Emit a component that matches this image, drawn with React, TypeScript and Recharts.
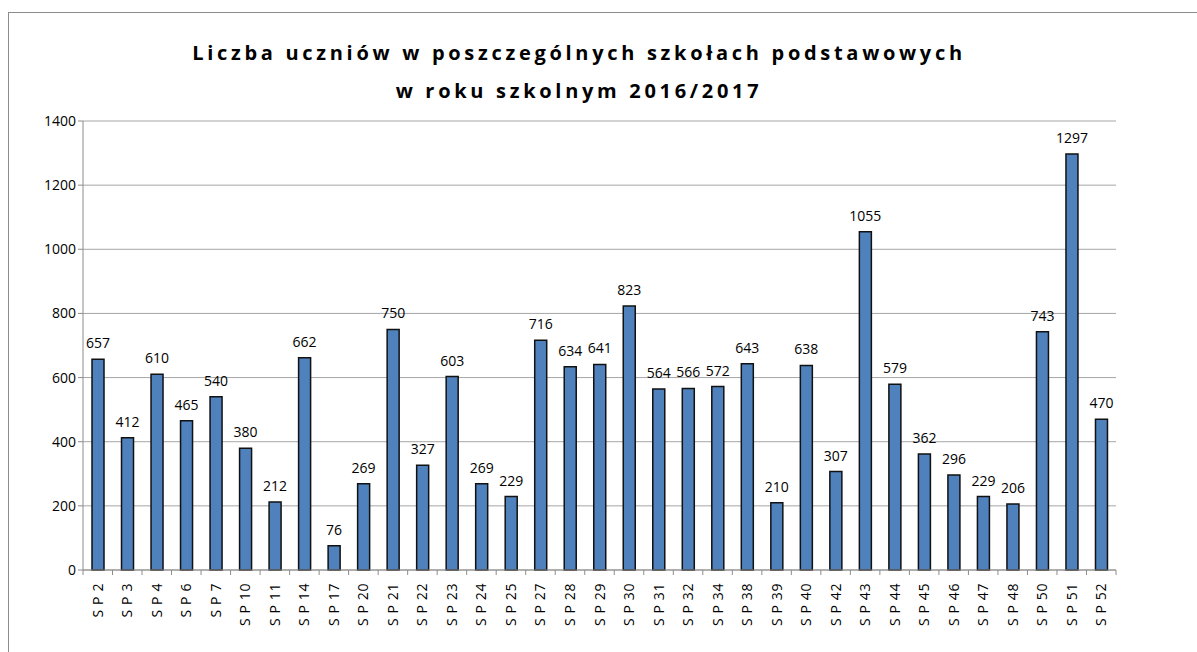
import React from "react";
import {
  BarChart,
  Bar,
  XAxis,
  YAxis,
  CartesianGrid,
  LabelList,
} from "recharts";

const schools = [
  "S P 2", "S P 3", "S P 4", "S P 6", "S P 7", "S P 10", "S P 11", "S P 14",
  "S P 17", "S P 20", "S P 21", "S P 22", "S P 23", "S P 24", "S P 25", "S P 27",
  "S P 28", "S P 29", "S P 30", "S P 31", "S P 32", "S P 34", "S P 38", "S P 39",
  "S P 40", "S P 42", "S P 43", "S P 44", "S P 45", "S P 46", "S P 47", "S P 48",
  "S P 50", "S P 51", "S P 52",
];

const students = [
  657, 412, 610, 465, 540, 380, 212, 662, 76, 269, 750, 327, 603, 269, 229, 716,
  634, 641, 823, 564, 566, 572, 643, 210, 638, 307, 1055, 579, 362, 296, 229, 206,
  743, 1297, 470,
];

const yTicks = [0, 200, 400, 600, 800, 1000, 1200, 1400];

const titleLines = [
  "Liczba uczniów w poszczególnych szkołach podstawowych",
  "w roku szkolnym 2016/2017",
];

const data = schools.map((name, i) => ({ name, value: students[i] }));

const FONT = "'Open Sans', sans-serif";
const CHART_W = 1188;
const CHART_H = 640;
const MARGIN = { top: 108, right: 81, left: 0, bottom: 0 };
const Y_W = 74;
const step = (CHART_W - MARGIN.left - MARGIN.right - Y_W) / schools.length;

// Excel style: tick marks between categories, labels rotated
function SchoolTick(props: any) {
  const { x, y, payload, index } = props;
  const last = index === schools.length - 1;
  return (
    <g>
      <line x1={x - step / 2} y1={y - 8} x2={x - step / 2} y2={y - 3} stroke="#8c8c8c" />
      {last && (
        <line x1={x + step / 2} y1={y - 8} x2={x + step / 2} y2={y - 3} stroke="#8c8c8c" />
      )}
      <text
        x={0}
        y={0}
        transform={`translate(${x + 5},${y + 5}) rotate(-90)`}
        textAnchor="end"
        fontSize={14}
        letterSpacing={0.6}
        fontFamily={FONT}
        fill="#000"
      >
        {payload.value}
      </text>
    </g>
  );
}

export default function App() {
  return (
    <div
      style={{
        position: "fixed",
        left: 8,
        top: 12,
        width: CHART_W,
        height: 660,
        border: "1px solid #8c8c8c",
        background: "#fff",
      }}
    >
      <div
        style={{
          position: "absolute",
          top: 21,
          left: 0,
          width: 1140,
          textAlign: "center",
          fontFamily: FONT,
          fontWeight: 700,
          fontSize: 20,
          letterSpacing: 3.7,
          lineHeight: "38px",
          color: "#000",
        }}
      >
        {titleLines.map((t) => (
          <div key={t}>{t}</div>
        ))}
      </div>
      <BarChart width={CHART_W} height={CHART_H} data={data} margin={MARGIN} barSize={12}>
        <CartesianGrid vertical={false} stroke="#a6a6a6" />
        <XAxis
          dataKey="name"
          interval={0}
          height={83}
          tickLine={false}
          axisLine={{ stroke: "#8c8c8c" }}
          tick={<SchoolTick />}
        />
        <YAxis
          width={Y_W}
          domain={[0, 1400]}
          ticks={yTicks}
          interval={0}
          axisLine={{ stroke: "#8c8c8c" }}
          tickLine={{ stroke: "#8c8c8c" }}
          tickSize={5}
          tick={{ fill: "#000", fontSize: 14, fontFamily: FONT }}
        />
        <Bar dataKey="value" fill="#4f81bd" stroke="#111" strokeWidth={1.5} isAnimationActive={false}>
          <LabelList
            dataKey="value"
            position="top"
            offset={11}
            style={{ fill: "#000", fontSize: 14, fontFamily: FONT }}
          />
        </Bar>
      </BarChart>
    </div>
  );
}
